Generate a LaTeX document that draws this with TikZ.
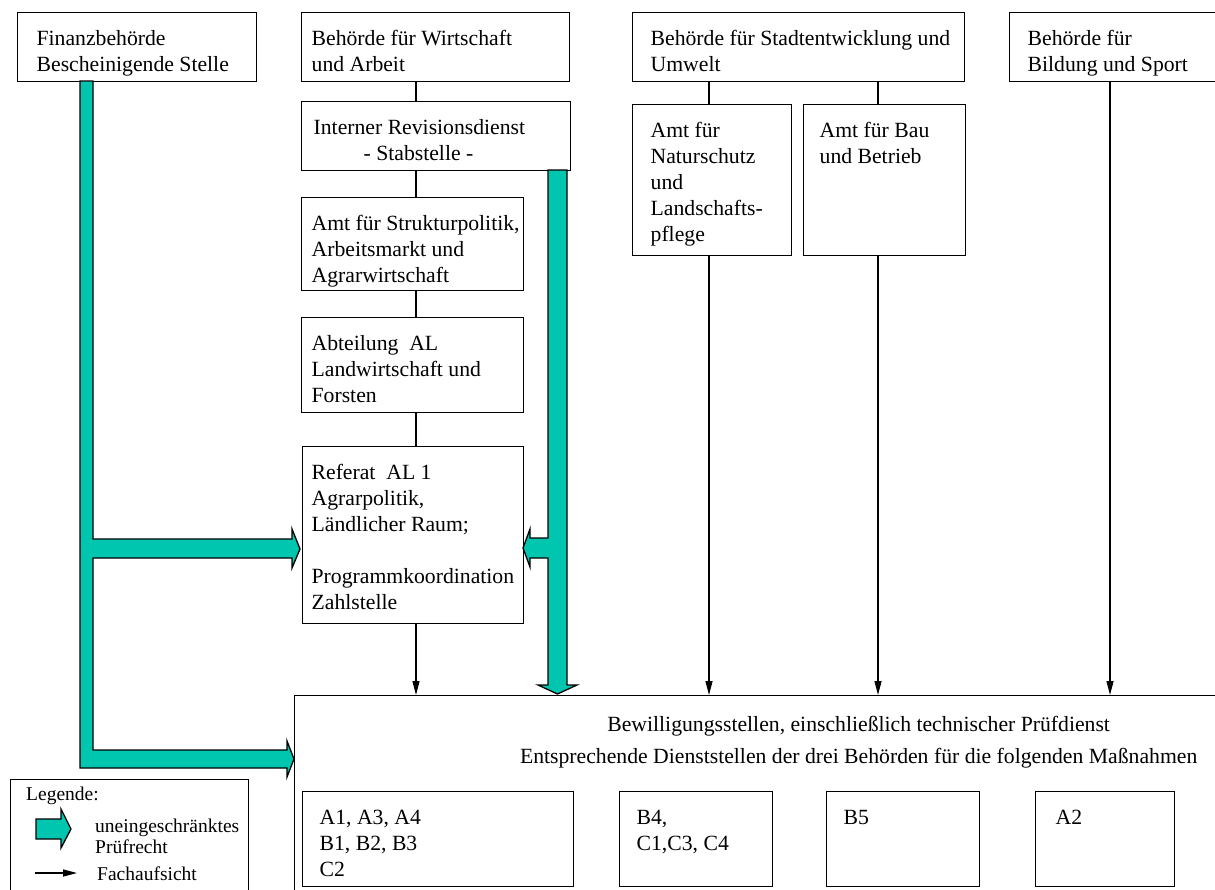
\documentclass[tikz,border=0pt]{standalone}
\usepackage{fontspec}
\setmainfont{Liberation Serif}
\usepackage{tikz}
\usetikzlibrary{arrows.meta,calc}
\definecolor{pruefteal}{RGB}{0,197,175}
% width, height, left padding, text (top aligned)
\newcommand{\boxtext}[4]{\parbox[t][#2pt][t]{#1pt}{\raggedright\leftskip=#3pt\relax\vspace*{14.8pt}\strut #4}}

\begin{document}
\begin{tikzpicture}[
    x=1pt, y=-1pt,
    font=\fontsize{21.7}{26}\selectfont,
    box/.style={draw, line width=1.3pt, anchor=north west, inner sep=0pt},
    conn/.style={line width=1.3pt},
    aufsicht/.style={-{Triangle[length=14pt,width=7pt]}, line width=1.3pt},
    pruef/.style={draw, fill=pruefteal, line width=1.3pt, line join=miter},
    legtext/.style={anchor=base west, inner sep=0pt, font=\fontsize{19.5}{18}\selectfont},
]
\path[use as bounding box, clip] (0,0) rectangle (1215,889);

% top row
\node[box] (fin) at (17,12) {\boxtext{239}{69}{19}{Finanzbehörde\\Bescheinigende Stelle}};
\node[box] (wirt) at (301,12) {\boxtext{268}{69}{10}{Behörde für Wirtschaft\\und Arbeit}};
\node[box] (stadt) at (632,12) {\boxtext{332}{69}{18}{Behörde für Stadtentwicklung und\\Umwelt}};
\node[box] (bild) at (1009,12) {\boxtext{260}{69}{18}{Behörde für\\Bildung und Sport}};

% Wirtschaft column
\node[box] (rev) at (301,101) {\boxtext{269}{69}{12}{Interner Revisionsdienst\\\hspace*{50pt}- Stabstelle -}};
\node[box] (struk) at (301,197) {\boxtext{222}{93}{10}{Amt für Strukturpolitik,\\Arbeitsmarkt und\\Agrarwirtschaft}};
\node[box] (abt) at (301,317) {\boxtext{222}{95}{10}{Abteilung~ AL\\Landwirtschaft und\\Forsten}};
\node[box] (ref) at (302,446) {\boxtext{221}{177}{9}{Referat~ AL 1\\Agrarpolitik,\\Ländlicher Raum;\\[26pt]Programmkoordination\\Zahlstelle}};

% Stadtentwicklung column
\node[box] (natur) at (632,104) {\boxtext{159}{151}{18}{Amt für\\Naturschutz\\und\\Landschafts-\\pflege}};
\node[box] (bau) at (803,104) {\boxtext{162}{151}{16}{Amt für Bau\\und Betrieb}};

% Bewilligungsstellen
\node[box] (bew) at (294,695) {\parbox[t][300pt][t]{1128pt}{\centering\vspace*{18pt}\strut Bewilligungsstellen, einschließlich technischer Prüfdienst\\[6pt]Entsprechende Dienststellen der drei Behörden für die folgenden Maßnahmen}};
\node[box] (mass1) at (302,791) {\boxtext{271}{95}{17}{A1, A3, A4\\B1, B2, B3\\C2}};
\node[box] (mass2) at (619,791) {\boxtext{153}{95}{17}{B4,\\C1,C3, C4}};
\node[box] (mass3) at (826,791) {\boxtext{153}{95}{17}{B5}};
\node[box] (mass4) at (1035,791) {\boxtext{139}{95}{20}{A2}};

% connectors
\coordinate (wirtx) at (416,0);
\coordinate (natx) at (709,0);
\coordinate (baux) at (878,0);
\coordinate (bildx) at (1110,0);
\draw[conn] (wirt.south -| wirtx) -- (rev.north -| wirtx);
\draw[conn] (rev.south -| wirtx) -- (struk.north -| wirtx);
\draw[conn] (struk.south -| wirtx) -- (abt.north -| wirtx);
\draw[conn] (abt.south -| wirtx) -- (ref.north -| wirtx);
\draw[conn] (stadt.south -| natx) -- (natur.north -| natx);
\draw[conn] (stadt.south -| baux) -- (bau.north -| baux);
\draw[aufsicht] (ref.south -| wirtx) -- (bew.north -| wirtx);
\draw[aufsicht] (natur.south -| natx) -- (bew.north -| natx);
\draw[aufsicht] (bau.south -| baux) -- (bew.north -| baux);
\draw[aufsicht] (bild.south -| bildx) -- (bew.north -| bildx);

% Pruefrecht
\draw[pruef] (80,81) -- (93,81) -- (93,539) -- (292,539) -- (292,529) -- (300,549) -- (292,568) -- (292,558)
  -- (93,558) -- (93,750) -- (287,750) -- (287,741) -- (294,759) -- (287,777) -- (287,768) -- (80,768) -- cycle;
\draw[pruef] (548,170) -- (567,170) -- (567,685) -- (577,685) -- (557.5,694) -- (538,685) -- (548,685)
  -- (548,558) -- (530,558) -- (530,567) -- (523,548) -- (530,529) -- (530,538) -- (548,538) -- cycle;

% legend
\node[box, minimum width=238pt, minimum height=150pt] (leg) at (10,779) {};
\node[legtext] (legtitle) at (26,800) {Legende:};
\draw[pruef] (36,819) -- (61,819) -- (61,809) -- (71,829) -- (61,848) -- (61,839) -- (36,839) -- cycle;
\node[legtext] (legpruef) at (95,832) {uneingeschränktes};
\node[legtext] (legpruef2) at (95,853) {Prüfrecht};
\coordinate (legfrom) at (35,873);
\coordinate (legto) at (77,873);
\draw[aufsicht] (legfrom) -- (legto);
\node[legtext] (legfach) at (97,880) {Fachaufsicht};
\end{tikzpicture}
\end{document}
